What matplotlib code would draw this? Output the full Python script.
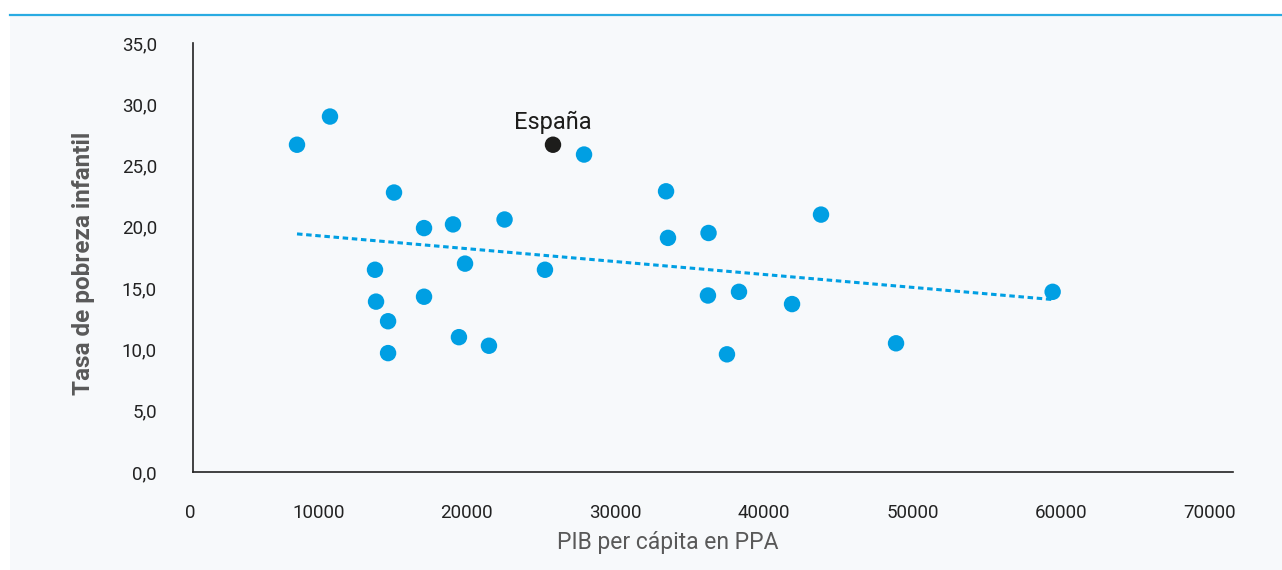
import matplotlib
matplotlib.use("Agg")
import matplotlib.pyplot as plt
import matplotlib.transforms as mtransforms
from matplotlib.patches import Rectangle
from matplotlib.lines import Line2D
import numpy as np

# PIB per cápita en PPA vs tasa de pobreza infantil
pib = [7000, 9220, 13530, 12250, 12320, 13130, 13130, 15550, 15550, 17500,
       18310, 17900, 19920, 20970, 23690, 26320, 31840, 31970, 34700, 34660,
       36750, 35940, 40320, 42270, 47320, 57860]
pobreza = [26.7, 29.0, 22.8, 16.5, 13.9, 12.3, 9.7, 19.9, 14.3, 20.2,
           17.0, 11.0, 10.3, 20.6, 16.5, 25.9, 22.9, 19.1, 19.5, 14.4,
           14.7, 9.6, 13.7, 21.0, 10.5, 14.7]
espana_pib = 24230
espana_pobreza = 26.7

xticks = [0, 10000, 20000, 30000, 40000, 50000, 60000, 70000]
yticks = [0, 5, 10, 15, 20, 25, 30, 35]
ylabels = ["0,0", "5,0", "10,0", "15,0", "20,0", "25,0", "30,0", "35,0"]

blue = "#009FE3"
narrow = ["Liberation Sans Narrow", "Roboto", "DejaVu Sans"]

W, H = 1282, 570
fig = plt.figure(figsize=(W / 100, H / 100), dpi=100)
fig.patch.set_facecolor("white")

# light panel and top rule
fig.patches.append(Rectangle((10 / W, 0), 1 - 10 / W, 1 - 15 / H, transform=fig.transFigure,
                             facecolor="#F7F9FB", edgecolor="none", zorder=-5))
fig.lines.append(Line2D([10 / W, 1], [1 - 14.5 / H, 1 - 14.5 / H], transform=fig.transFigure,
                        color="#29ABE2", linewidth=1.6, zorder=-4))

ax = fig.add_axes([193 / W, 1 - 472 / H, (1233 - 193) / W, (472 - 43) / H])
ax.set_facecolor("none")

ax.scatter(pib, pobreza, s=140, color=blue, edgecolors="none", zorder=3)
ax.scatter([espana_pib], [espana_pobreza], s=140, color="#1D1D1B", edgecolors="none", zorder=4)

# linear trend over all countries
all_x = pib + [espana_pib]
all_y = pobreza + [espana_pobreza]
coef = np.polyfit(all_x, all_y, 1)
xs = np.array([min(all_x), max(all_x)])
ax.plot(xs, np.polyval(coef, xs), color=blue, linewidth=2.2, dashes=(1.8, 1.2), zorder=2)

ax.annotate("España", (espana_pib, espana_pobreza), xytext=(0, 11), textcoords="offset points",
            ha="center", va="baseline", fontsize=17, family=["Roboto", "DejaVu Sans"], color="#1D1D1B")

ax.set_xlim(0, 70000)
ax.set_ylim(0, 35)
ax.set_xticks(xticks)
ax.set_xticklabels([str(v) for v in xticks], family=narrow, fontsize=13.5, color="#222222", ha="right")
ax.set_yticks(yticks)
ax.set_yticklabels(ylabels, family=narrow, fontsize=13.5, color="#222222")
ax.tick_params(axis="x", length=0, pad=23)
ax.tick_params(axis="y", length=0, pad=26)
offset = mtransforms.ScaledTranslation(3 / 100, 0, fig.dpi_scale_trans)
for lab in ax.get_xticklabels():
    lab.set_transform(lab.get_transform() + offset)

for side in ["top", "right"]:
    ax.spines[side].set_visible(False)
for side in ["left", "bottom"]:
    ax.spines[side].set_color("#222222")
    ax.spines[side].set_linewidth(1.2)

fig.text(668 / W, 1 - 543 / H, "PIB per cápita en PPA", ha="center", va="center",
         family=narrow, fontsize=16.5, color="#595959")
fig.text(84 / W, 1 - 263 / H, "Tasa de pobreza infantil", ha="center", va="center", rotation=90,
         family=narrow, fontsize=17.5, fontweight="bold", color="#595959")

fig.savefig("out.png", dpi=100, facecolor=fig.get_facecolor())
